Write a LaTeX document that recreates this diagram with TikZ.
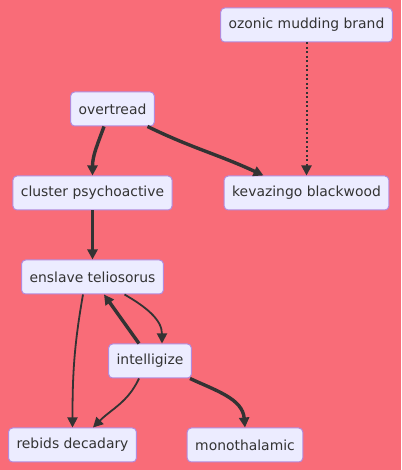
\documentclass[tikz,border=0pt]{standalone}
\usepackage{fontspec}
\setmainfont{DejaVu Sans}
\usetikzlibrary{arrows.meta}
\definecolor{bgred}{RGB}{249,108,120}
\definecolor{boxfill}{RGB}{236,236,255}
\definecolor{boxline}{RGB}{178,138,220}
\definecolor{ink}{RGB}{51,51,51}
\tikzset{
  box/.style={draw=boxline, fill=boxfill, rounded corners=4pt, line width=1pt,
    minimum height=34pt, inner xsep=8pt, text=ink, font=\fontsize{13.9}{16}\selectfont},
  link/.style={ink, line width=1.8pt, -{Triangle[length=10pt,width=10pt]}},
  boldlink/.style={link, line width=3.4pt},
  dotlink/.style={link, line width=2pt, dash pattern=on 2pt off 2.5pt}
}

\begin{document}
\begin{tikzpicture}[x=1pt,y=1pt]
  \fill[bgred] (0,0) rectangle (401,470);
  \useasboundingbox (0,0) rectangle (401,470);
  % nodes
  \node[box] (oz) at (306.5,445) {ozonic mudding brand};
  \node[box] (ot) at (112.5,361) {overtread};
  \node[box] (cp) at (92.5,277) {cluster psychoactive};
  \node[box] (kb) at (306.5,277) {kevazingo blackwood};
  \node[box] (en) at (92.5,193) {enslave teliosorus};
  \node[box] (ig) at (150,109) {intelligize};
  \node[box] (rb) at (72.5,25) {rebids decadary};
  \node[box] (mo) at (245,25) {monothalamic};
  % links
  \draw[dotlink] (oz) -- (kb);
  \draw[boldlink] ([xshift=-8.5pt]ot.south) to[out=-110,in=90] (cp.north);
  \draw[boldlink] ([xshift=35pt]ot.south) to[out=-26,in=155] ([xshift=-43pt]kb.north);
  \draw[boldlink] (cp) -- (en);
  \draw[link] ([xshift=32pt]en.south) to[out=-30,in=90] ([xshift=12pt]ig.north);
  \draw[boldlink] ([xshift=-11pt]ig.north) -- ([xshift=11.5pt]en.south);
  \draw[link] ([xshift=-9.5pt]en.south) to[out=-100,in=90] (rb.north);
  \draw[link] ([xshift=-11pt]ig.south) to[out=-115,in=45] ([xshift=20.5pt]rb.north);
  \draw[boldlink] ([xshift=40pt]ig.south) to[out=-25,in=95] (mo.north);
\end{tikzpicture}
\end{document}
